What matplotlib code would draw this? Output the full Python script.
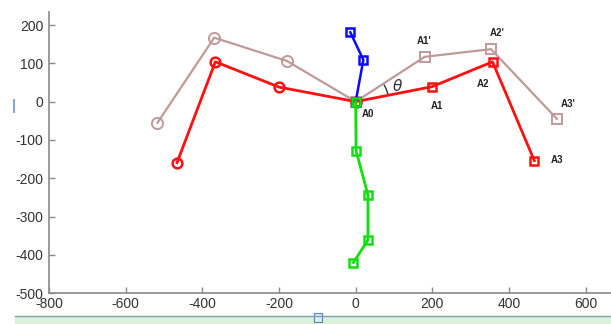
import numpy as np
import matplotlib.pyplot as plt
from matplotlib.patches import Rectangle, Arc

plt.rcParams['font.family'] = ['Liberation Sans', 'DejaVu Sans']
plt.rcParams['axes.unicode_minus'] = False

# joint positions of the legs (x, y)
red_left_x = [-466, -366, -200, 0]
red_left_y = [-159, 104, 38, 0]
red_right_x = [0, 199, 357, 466]
red_right_y = [0, 39, 104, -154]

brown_left_x = [-517, -369, -179, 0]
brown_left_y = [-55, 167, 106, 0]
brown_right_x = [0, 180, 353, 525]
brown_right_y = [0, 117, 137, -45]

blue_x = [-14, 20, 0]
blue_y = [181, 109, 0]

green_x = [0, 1, 32, 32, -6]
green_y = [0, -128, -244, -361, -420]

point_labels = ['A0', 'A1', 'A2', 'A3', "A1'", "A2'", "A3'"]
label_x = [33, 212, 332, 525, 179, 368, 555]
label_y = [-33, -11, 46, -152, 157, 179, -7]

fig = plt.figure(figsize=(6.11, 3.24), dpi=100)
ax = fig.add_axes([0.0802, 0.095, 0.9198, 0.868])

red = '#ff1010'
brown = '#c09a9a'

ax.plot(brown_left_x, brown_left_y, '-o', color=brown, lw=1.6, ms=8,
        mfc='none', mec=brown, mew=1.4)
ax.plot(brown_right_x, brown_right_y, '-s', color=brown, lw=1.6, ms=7,
        mfc='none', mec=brown, mew=1.4)
ax.plot(red_left_x, red_left_y, '-o', color=red, lw=2, ms=7,
        mfc='none', mec=red, mew=1.8)
ax.plot(red_right_x, red_right_y, '-s', color=red, lw=2, ms=6,
        mfc='none', mec=red, mew=1.8)
ax.plot(blue_x, blue_y, '-s', color='#0a0aff', lw=1.8, ms=6,
        mfc='none', mew=1.8)
ax.plot(green_x, green_y, '-s', color='#10e010', lw=2, ms=6,
        mfc='none', mew=1.8)

# angle between A0-A1 and A0-A1'
a_red = np.degrees(np.arctan2(red_right_y[1], red_right_x[1]))
a_brown = np.degrees(np.arctan2(brown_right_y[1], brown_right_x[1]))
ax.add_patch(Arc((0, 0), 172, 172, theta1=a_red, theta2=a_brown,
                 color='#333333', lw=1))
ax.text(110, 41, r'$\theta$', fontsize=11, color='#333333',
        ha='center', va='center')

for lbl, lx, ly in zip(point_labels, label_x, label_y):
    ax.text(lx, ly, lbl, fontsize=7, fontweight='bold', color='#222222',
            ha='center', va='center')

ax.set_xlim(-800, 666)
ax.set_ylim(-500, 234)
ax.set_xticks(np.arange(-800, 601, 200))
ax.set_yticks(np.arange(-500, 201, 100))

for side in ['top', 'right']:
    ax.spines[side].set_visible(False)
for side in ['left', 'bottom']:
    ax.spines[side].set_color('#8a8a8a')
    ax.spines[side].set_linewidth(1.2)
ax.tick_params(direction='in', length=4, width=1, color='#8a8a8a',
               labelsize=10, labelcolor='#333333', pad=4)
ax.tick_params(axis='x', pad=3)

# scroll strip along the bottom edge
fig.patches.append(Rectangle((15 / 611, 0), 1, 8 / 324, transform=fig.transFigure,
                             facecolor='#d9f0d9', edgecolor='none'))
fig.lines.append(plt.Line2D([15 / 611, 1], [8 / 324, 8 / 324], transform=fig.transFigure,
                            color='#7f9fb8', lw=1))
fig.patches.append(Rectangle((314 / 611, 2 / 324), 8 / 611, 9 / 324,
                             transform=fig.transFigure, facecolor='#dcebf7',
                             edgecolor='#5a86b0', lw=0.8))
fig.lines.append(plt.Line2D([14 / 611, 14 / 611], [212 / 324, 224 / 324],
                            transform=fig.transFigure, color='#8aa8d0', lw=1.5))

fig.savefig('out.png', dpi=100)
